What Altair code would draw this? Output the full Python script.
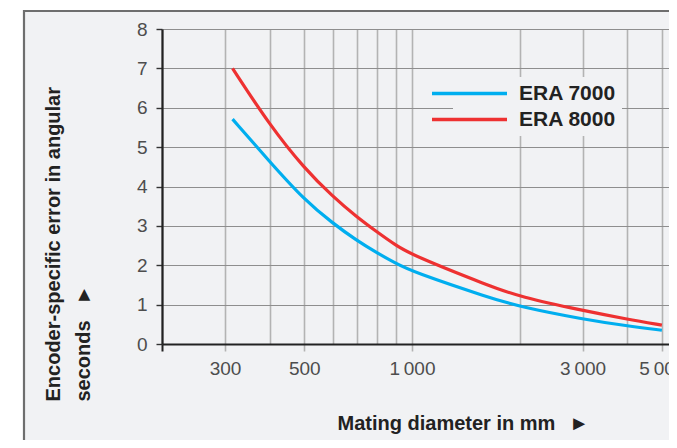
import altair as alt
import pandas as pd

# ---- data ----
diameter = [315, 400, 500, 600, 700, 800, 900, 1000, 1650, 2000, 3000, 4000, 5000]
era7000 = [5.71, 4.63, 3.66, 3.07, 2.63, 2.31, 2.05, 1.84, 1.17, 0.95, 0.63, 0.46, 0.35]
era8000 = [7.00, 5.56, 4.46, 3.75, 3.23, 2.84, 2.51, 2.26, 1.47, 1.20, 0.85, 0.63, 0.48]
series = ["ERA 7000", "ERA 8000"]
colors = ["#00aeef", "#ee3131"]
grid_x = [200, 300, 400, 500, 600, 700, 800, 900, 1000, 2000, 3000, 4000, 5000]
label_x = [300, 500, 1000, 3000, 5000]
tick_x = [200] + label_x
y_values = [0, 1, 2, 3, 4, 5, 6, 7, 8]

rows = []
for name, vals in zip(series, [era7000, era8000]):
    for d, v in zip(diameter, vals):
        rows.append({"diameter": d, "error": v, "series": name})
df = pd.DataFrame(rows)

FONT = "Liberation Sans"
BG = "#f1f2f4"
PLOT_W, PLOT_H = 507, 315
PAD = {"left": 154, "top": 21, "right": 0, "bottom": 96}

lbl_list = "[" + ",".join(str(v) for v in label_x) + "]"
tick_list = "[" + ",".join(str(v) for v in tick_x) + "]"
label_expr = (
    f"indexof({lbl_list}, datum.value) < 0 ? '' : "
    "(datum.value >= 1000 ? format(datum.value/1000, 'd') + '\u2009000' : format(datum.value, 'd'))"
)

x_axis = alt.Axis(
    values=grid_x,
    labelExpr=label_expr,
    labelOverlap=False,
    labelFlush=False,
    labelFont=FONT,
    labelFontSize=19,
    labelColor="#4d4d4d",
    labelPadding=8,
    tickSize=7,
    tickOpacity={"condition": {"test": f"indexof({tick_list}, datum.value) >= 0", "value": 1}, "value": 0},
    tickColor={"condition": {"test": "datum.value == 200", "value": "#222222"}, "value": "#b3b3b3"},
    tickWidth={"condition": {"test": "datum.value == 200", "value": 2}, "value": 1.6},
    grid=True,
    gridColor="#b3b3b3",
    gridWidth=1.6,
    domainColor="#222222",
    domainWidth=2.2,
    title="Mating diameter in mm\u2002\u2009\u25ba",
    titleFont=FONT,
    titleFontSize=20,
    titleFontWeight="bold",
    titleColor="#222222",
    titleAlign="left",
    titleBaseline="alphabetic",
    titleAnchor="start",
    titleX=175,
    titleY=85,
)

y_axis = alt.Axis(
    values=y_values,
    labelFont=FONT,
    labelFontSize=19,
    labelColor="#4d4d4d",
    labelPadding=9,
    tickSize=6,
    tickColor="#333333",
    tickWidth=1.4,
    grid=True,
    gridColor="#8e8e8e",
    gridWidth=1.2,
    domainColor="#222222",
    domainWidth=2.2,
    title=["Encoder-specific error in angular", "seconds\u2002\u00a0\u25ba"],
    titleFont=FONT,
    titleFontSize=20,
    titleFontWeight="bold",
    titleColor="#222222",
    titleAngle=270,
    titleAlign="left",
    titleBaseline="top",
    titleLineHeight=30,
    titleX=-119,
    titleY=372,
)

lines = alt.Chart(df).mark_line(strokeWidth=3.2, interpolate="basis").encode(
    x=alt.X("diameter:Q", scale=alt.Scale(type="log", domain=[200, 5234], nice=False), axis=x_axis),
    y=alt.Y("error:Q", scale=alt.Scale(domain=[0, 8], nice=False, zero=True), axis=y_axis),
    color=alt.Color(
        "series:N",
        scale=alt.Scale(domain=series, range=colors),
        title=None,
        legend=alt.Legend(
            orient="none",
            legendX=291,
            legendY=48,
            symbolType="M-5,0H5",
            symbolSize=225,
            symbolStrokeWidth=3.5,
            symbolFillColor="transparent",
            labelFont=FONT,
            labelFontSize=21,
            labelFontWeight="bold",
            labelColor="#222222",
            labelOffset=39,
            rowPadding=4,
            padding=6,
            fillColor=BG,
        ),
    ),
)

# frame around the panel (decoration)
one = pd.DataFrame({"k": [0]})
white_left = alt.Chart(one).mark_rect(color="white").encode(
    x=alt.value(-154), x2=alt.value(-139), y=alt.value(-21), y2=alt.value(PLOT_H + PAD["bottom"])
)
white_top = alt.Chart(one).mark_rect(color="white").encode(
    x=alt.value(-154), x2=alt.value(PLOT_W), y=alt.value(-21), y2=alt.value(-19)
)
border_left = alt.Chart(one).mark_rule(color="#6e6e6e", strokeWidth=2.2).encode(
    x=alt.value(-138), y=alt.value(-19), y2=alt.value(PLOT_H + PAD["bottom"])
)
border_top = alt.Chart(one).mark_rule(color="#6e6e6e", strokeWidth=2.2).encode(
    x=alt.value(-139), x2=alt.value(PLOT_W), y=alt.value(-18)
)

chart = alt.layer(lines, white_left, white_top, border_left, border_top).properties(
    width=PLOT_W,
    height=PLOT_H,
    autosize=alt.AutoSizeParams(type="none"),
    padding=PAD,
    background=BG,
).configure_view(stroke="transparent")

chart.save("out.html", embed_options={"renderer": "svg", "actions": False})
